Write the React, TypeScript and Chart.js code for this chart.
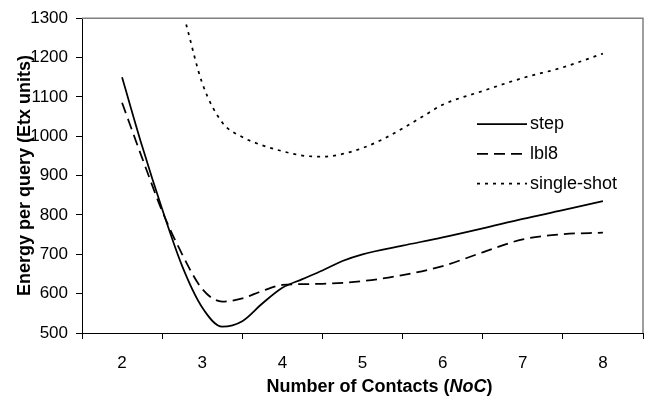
import React, { useEffect, useRef } from 'react';
import { Chart, registerables } from 'chart.js';

Chart.register(...registerables);

const xLabels = ['2', '3', '4', '5', '6', '7', '8'];

const stepX = [2, 2.25, 2.5, 2.75, 3, 3.25, 3.5, 3.75, 4, 4.25, 4.5, 4.75, 5, 5.5, 6, 6.5, 7, 7.5, 8];
const stepY = [1150, 975, 815, 670, 565, 516, 530, 575, 615, 637, 659, 683, 700, 722, 743, 766, 790, 812, 835];

const lbl8X = [2, 2.25, 2.5, 2.75, 3, 3.25, 3.5, 3.75, 4, 4.5, 5, 5.5, 6, 6.5, 7, 7.5, 8];
const lbl8Y = [1085, 945, 810, 700, 612, 580, 588, 607, 622, 625, 632, 647, 670, 705, 738, 751, 755];

const shotX = [2.8, 3, 3.25, 3.5, 3.75, 4, 4.25, 4.5, 4.75, 5, 5.25, 5.5, 5.75, 6, 6.5, 7, 7.5, 8];
const shotY = [1284, 1135, 1035, 998, 977, 962, 951, 948, 955, 970, 992, 1020, 1050, 1080, 1115, 1148, 1175, 1210];

const seriesNames = ['step', 'lbl8', 'single-shot'];
const yTitle = 'Energy per query (Etx units)';
const xTitleParts: [string, string][] = [
  ['Number of Contacts (', 'bold'],
  ['NoC', 'italic bold'],
  [')', 'bold'],
];

const FONT = '"Liberation Sans", Arial, sans-serif';

const pts = (xs: number[], ys: number[]) => xs.map((x, i) => ({ x, y: ys[i] }));

const decorPlugin = {
  id: 'decor',
  beforeDatasetsDraw(chart: any) {
    const { ctx, chartArea: a } = chart;
    ctx.save();
    ctx.strokeStyle = '#808080';
    ctx.lineWidth = 1.5;
    ctx.beginPath();
    ctx.moveTo(a.left, a.top);
    ctx.lineTo(a.right, a.top);
    ctx.lineTo(a.right, a.bottom);
    ctx.stroke();
    ctx.restore();
  },
  afterDraw(chart: any) {
    const { ctx, chartArea: a } = chart;
    ctx.save();
    // legend
    const x0 = a.right - 166;
    const y0 = a.top + 106;
    const gap = 29.7;
    chart.data.datasets.forEach((ds: any, i: number) => {
      const y = y0 + i * gap;
      ctx.beginPath();
      ctx.setLineDash(ds.borderDash || []);
      ctx.lineWidth = ds.borderWidth;
      ctx.strokeStyle = ds.borderColor;
      ctx.moveTo(x0, y);
      ctx.lineTo(x0 + 50, y);
      ctx.stroke();
      ctx.setLineDash([]);
      ctx.fillStyle = '#000';
      ctx.font = `18px ${FONT}`;
      ctx.textBaseline = 'middle';
      ctx.textAlign = 'left';
      ctx.fillText(ds.label, x0 + 53, y);
    });
    // x title with italic part
    ctx.textBaseline = 'alphabetic';
    ctx.textAlign = 'left';
    let total = 0;
    const widths = xTitleParts.map(([t, s]) => {
      ctx.font = `${s} 18px ${FONT}`;
      const w = ctx.measureText(t).width;
      total += w;
      return w;
    });
    let x = (a.left + a.right) / 2 + 17 - total / 2;
    const yb = a.bottom + 59;
    xTitleParts.forEach(([t, s], i) => {
      ctx.font = `${s} 18px ${FONT}`;
      ctx.fillStyle = '#000';
      ctx.fillText(t, x, yb);
      x += widths[i];
    });
    ctx.restore();
  },
};

export default function App() {
  const ref = useRef<HTMLCanvasElement | null>(null);

  useEffect(() => {
    if (!ref.current) return;
    const chart = new Chart(ref.current, {
      type: 'line',
      data: {
        labels: xLabels,
        datasets: [
          {
            label: seriesNames[0],
            data: pts(stepX, stepY),
            xAxisID: 'xl',
            yAxisID: 'y',
            borderColor: '#000',
            borderWidth: 1.75,
            borderDash: [],
            pointRadius: 0,
            fill: false,
            cubicInterpolationMode: 'monotone',
          },
          {
            label: seriesNames[1],
            data: pts(lbl8X, lbl8Y),
            xAxisID: 'xl',
            yAxisID: 'y',
            borderColor: '#000',
            borderWidth: 1.75,
            borderDash: [11, 6],
            pointRadius: 0,
            fill: false,
            cubicInterpolationMode: 'monotone',
          },
          {
            label: seriesNames[2],
            data: pts(shotX, shotY),
            xAxisID: 'xl',
            yAxisID: 'y',
            borderColor: '#000',
            borderWidth: 1.75,
            borderDash: [3, 5],
            pointRadius: 0,
            fill: false,
            cubicInterpolationMode: 'monotone',
          },
        ] as any,
      },
      options: {
        animation: false,
        responsive: false,
        devicePixelRatio: 1,
        layout: { padding: { top: 16, right: 6, left: 0, bottom: 0 } },
        plugins: {
          legend: { display: false },
          tooltip: { enabled: false },
        },
        scales: {
          x: {
            type: 'category',
            position: 'bottom',
            offset: true,
            grid: {
              offset: true,
              display: true,
              drawOnChartArea: false,
              drawTicks: true,
              tickLength: 6,
              color: '#000',
              lineWidth: 1,
            },
            border: { display: true, color: '#000', width: 1 },
            ticks: {
              color: '#000',
              font: { family: FONT, size: 17 },
              padding: 14,
              maxRotation: 0,
              autoSkip: false,
            },
            afterFit: (s: any) => {
              s.height = 67;
            },
          },
          xl: {
            type: 'linear',
            display: false,
            min: 1.5,
            max: 8.5,
          },
          y: {
            type: 'linear',
            position: 'left',
            min: 500,
            max: 1300,
            grid: {
              display: true,
              drawOnChartArea: false,
              drawTicks: true,
              tickLength: 6,
              color: '#000',
              lineWidth: 1,
            },
            border: { display: true, color: '#000', width: 1 },
            ticks: {
              stepSize: 100,
              color: '#000',
              font: { family: FONT, size: 17 },
              padding: 8,
              callback: (v: any) => String(v),
            },
            title: {
              display: true,
              text: yTitle,
              color: '#000',
              font: { family: FONT, size: 18, weight: 'bold' },
              padding: { top: 14.5, bottom: 0 },
            },
            afterFit: (s: any) => {
              s.width = 82;
            },
          },
        },
      } as any,
      plugins: [decorPlugin],
    });
    return () => chart.destroy();
  }, []);

  return (
    <div style={{ position: 'fixed', left: 0, top: 0, width: 649, height: 400, background: '#fff' }}>
      <canvas ref={ref} width={649} height={400} style={{ width: 649, height: 400, display: 'block' }} />
    </div>
  );
}
